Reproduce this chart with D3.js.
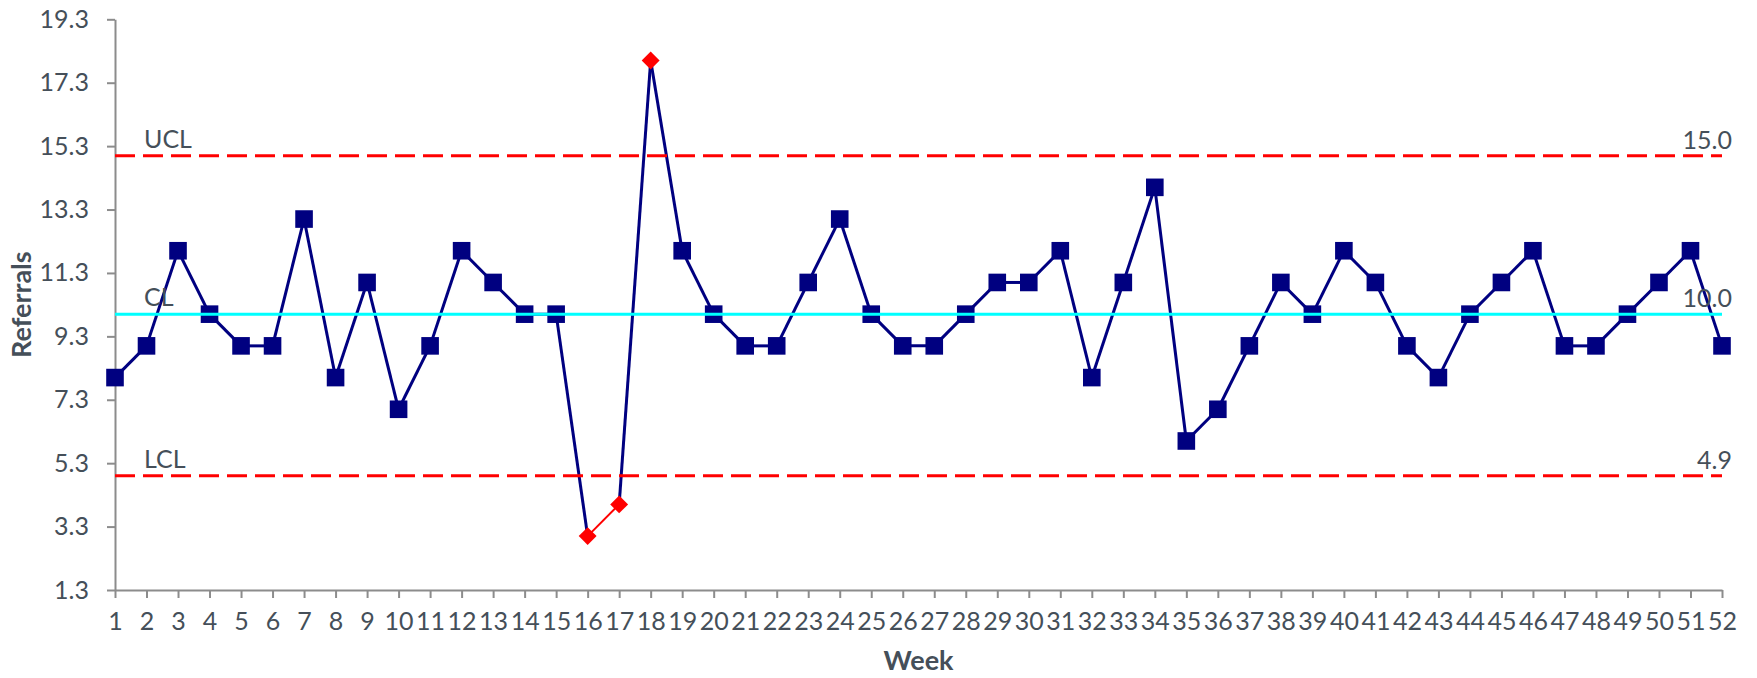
<!DOCTYPE html>
<html>
<head>
<meta charset="utf-8">
<script src="https://cdn.jsdelivr.net/npm/d3@7"></script>
<style>
    body { margin: 0; background: #fff; }
    text { font-family: Lato, "Open Sans", sans-serif; fill: #454f59; }
    .tick text { font-size: 25px; }
    .axis-title { font-size: 27px; font-weight: bold; }
    .limit-label { font-size: 25px; }
</style>
</head>
<body>
<script>

// chart data
const weeks = d3.range(1, 53);
const referrals = [8, 9, 12, 10, 9, 9, 13, 8, 11, 7, 9, 12, 11, 10, 10, 3, 4, 18, 12, 10,
    9, 9, 11, 13, 10, 9, 9, 10, 11, 11, 12, 8, 11, 14, 6, 7, 9, 11, 10, 12,
    11, 9, 8, 10, 11, 12, 9, 9, 10, 11, 12, 9];
const yTicks = [1.3, 3.3, 5.3, 7.3, 9.3, 11.3, 13.3, 15.3, 17.3, 19.3];
const limitNames = ['UCL', 'CL', 'LCL'];
const limitValues = [15.0, 10.0, 4.9];

const SCREEN_DIMENSIONS = {
    width: 1757,
    height: 678,
    leftMargin: 115,
    rightMargin: 35,
    topMargin: 19.3,
    bottomMargin: 88
}
SCREEN_DIMENSIONS.innerWidth = SCREEN_DIMENSIONS.width - SCREEN_DIMENSIONS.leftMargin - SCREEN_DIMENSIONS.rightMargin;
SCREEN_DIMENSIONS.innerHeight = SCREEN_DIMENSIONS.height - SCREEN_DIMENSIONS.topMargin - SCREEN_DIMENSIONS.bottomMargin;

const data = weeks.map((w, i) => ({ week: w, value: referrals[i] }));
const ucl = limitValues[0], lcl = limitValues[2];
// which side of the limits a point falls on: 1 above UCL, -1 below LCL, 0 inside
const side = d => d.value > ucl ? 1 : (d.value < lcl ? -1 : 0);
const isOut = d => side(d) !== 0;

var svg = d3.select('body').append('svg')
    .attr('width', SCREEN_DIMENSIONS.width)
    .attr('height', SCREEN_DIMENSIONS.height);

const canvas = svg.append('g')
    .attr('transform', `translate(${SCREEN_DIMENSIONS.leftMargin},${SCREEN_DIMENSIONS.topMargin})`);

const x = d3.scalePoint()
    .domain(weeks)
    .range([0, SCREEN_DIMENSIONS.innerWidth]);

const y = d3.scaleLinear()
    .domain([yTicks[0], yTicks[yTicks.length - 1]])
    .range([SCREEN_DIMENSIONS.innerHeight, 0]);

// axes
const xAxisGroup = canvas.append('g')
    .attr('transform', `translate(0, ${SCREEN_DIMENSIONS.innerHeight})`)
    .call(d3.axisBottom(x).tickSizeInner(8).tickSizeOuter(0).tickPadding(14));

const yAxisGroup = canvas.append('g')
    .call(d3.axisLeft(y).tickValues(yTicks).tickFormat(d3.format('.1f')).tickSizeInner(8).tickSizeOuter(0).tickPadding(18));

[xAxisGroup, yAxisGroup].forEach(g => {
    g.select('.domain').attr('stroke', '#8c8c8c').attr('stroke-width', 2);
    g.selectAll('.tick line').attr('stroke', '#8c8c8c').attr('stroke-width', 2);
    g.selectAll('.tick text').attr('fill', '#454f59');
});

canvas.append('text')
    .attr('class', 'axis-title')
    .attr('x', SCREEN_DIMENSIONS.innerWidth / 2)
    .attr('y', SCREEN_DIMENSIONS.innerHeight + 80)
    .attr('text-anchor', 'middle')
    .text('Week');

canvas.append('text')
    .attr('class', 'axis-title')
    .attr('transform', `translate(${-SCREEN_DIMENSIONS.leftMargin + 31}, ${SCREEN_DIMENSIONS.innerHeight / 2}) rotate(-90)`)
    .attr('text-anchor', 'middle')
    .text('Referrals');

// data line, segment by segment: a run of points out on the same side turns red
for (let i = 1; i < data.length; i++) {
    let a = data[i - 1], b = data[i];
    let red = isOut(a) && side(a) === side(b);
    canvas.append('line')
        .attr('x1', x(a.week)).attr('y1', y(a.value))
        .attr('x2', x(b.week)).attr('y2', y(b.value))
        .attr('stroke', red ? '#ff0000' : '#000080')
        .attr('stroke-width', red ? 2 : 3);
}

canvas.selectAll('.marker')
    .data(data)
    .join('path')
    .attr('class', 'marker')
    .attr('d', d => isOut(d) ? d3.symbol(d3.symbolSquare, 160)() : d3.symbol(d3.symbolSquare, 310)())
    .attr('transform', d => `translate(${x(d.week)},${y(d.value)})` + (isOut(d) ? ' rotate(45)' : ''))
    .attr('fill', d => isOut(d) ? '#ff0000' : '#000080');

// control limits on top
limitNames.forEach((name, i) => {
    let v = limitValues[i];
    let isCL = name === 'CL';
    canvas.append('line')
        .attr('x1', 0).attr('x2', SCREEN_DIMENSIONS.innerWidth)
        .attr('y1', y(v)).attr('y2', y(v))
        .attr('stroke', isCL ? '#00ffff' : '#ff0000')
        .attr('stroke-width', 3)
        .attr('stroke-dasharray', isCL ? null : '20,8');

    canvas.append('text')
        .attr('class', 'limit-label')
        .attr('x', 29)
        .attr('y', y(v) - 8)
        .text(name);

    canvas.append('text')
        .attr('class', 'limit-label')
        .attr('x', SCREEN_DIMENSIONS.innerWidth + 10)
        .attr('y', y(v) - 7)
        .attr('text-anchor', 'end')
        .text(d3.format('.1f')(v));
});
</script>
</body>
</html>
